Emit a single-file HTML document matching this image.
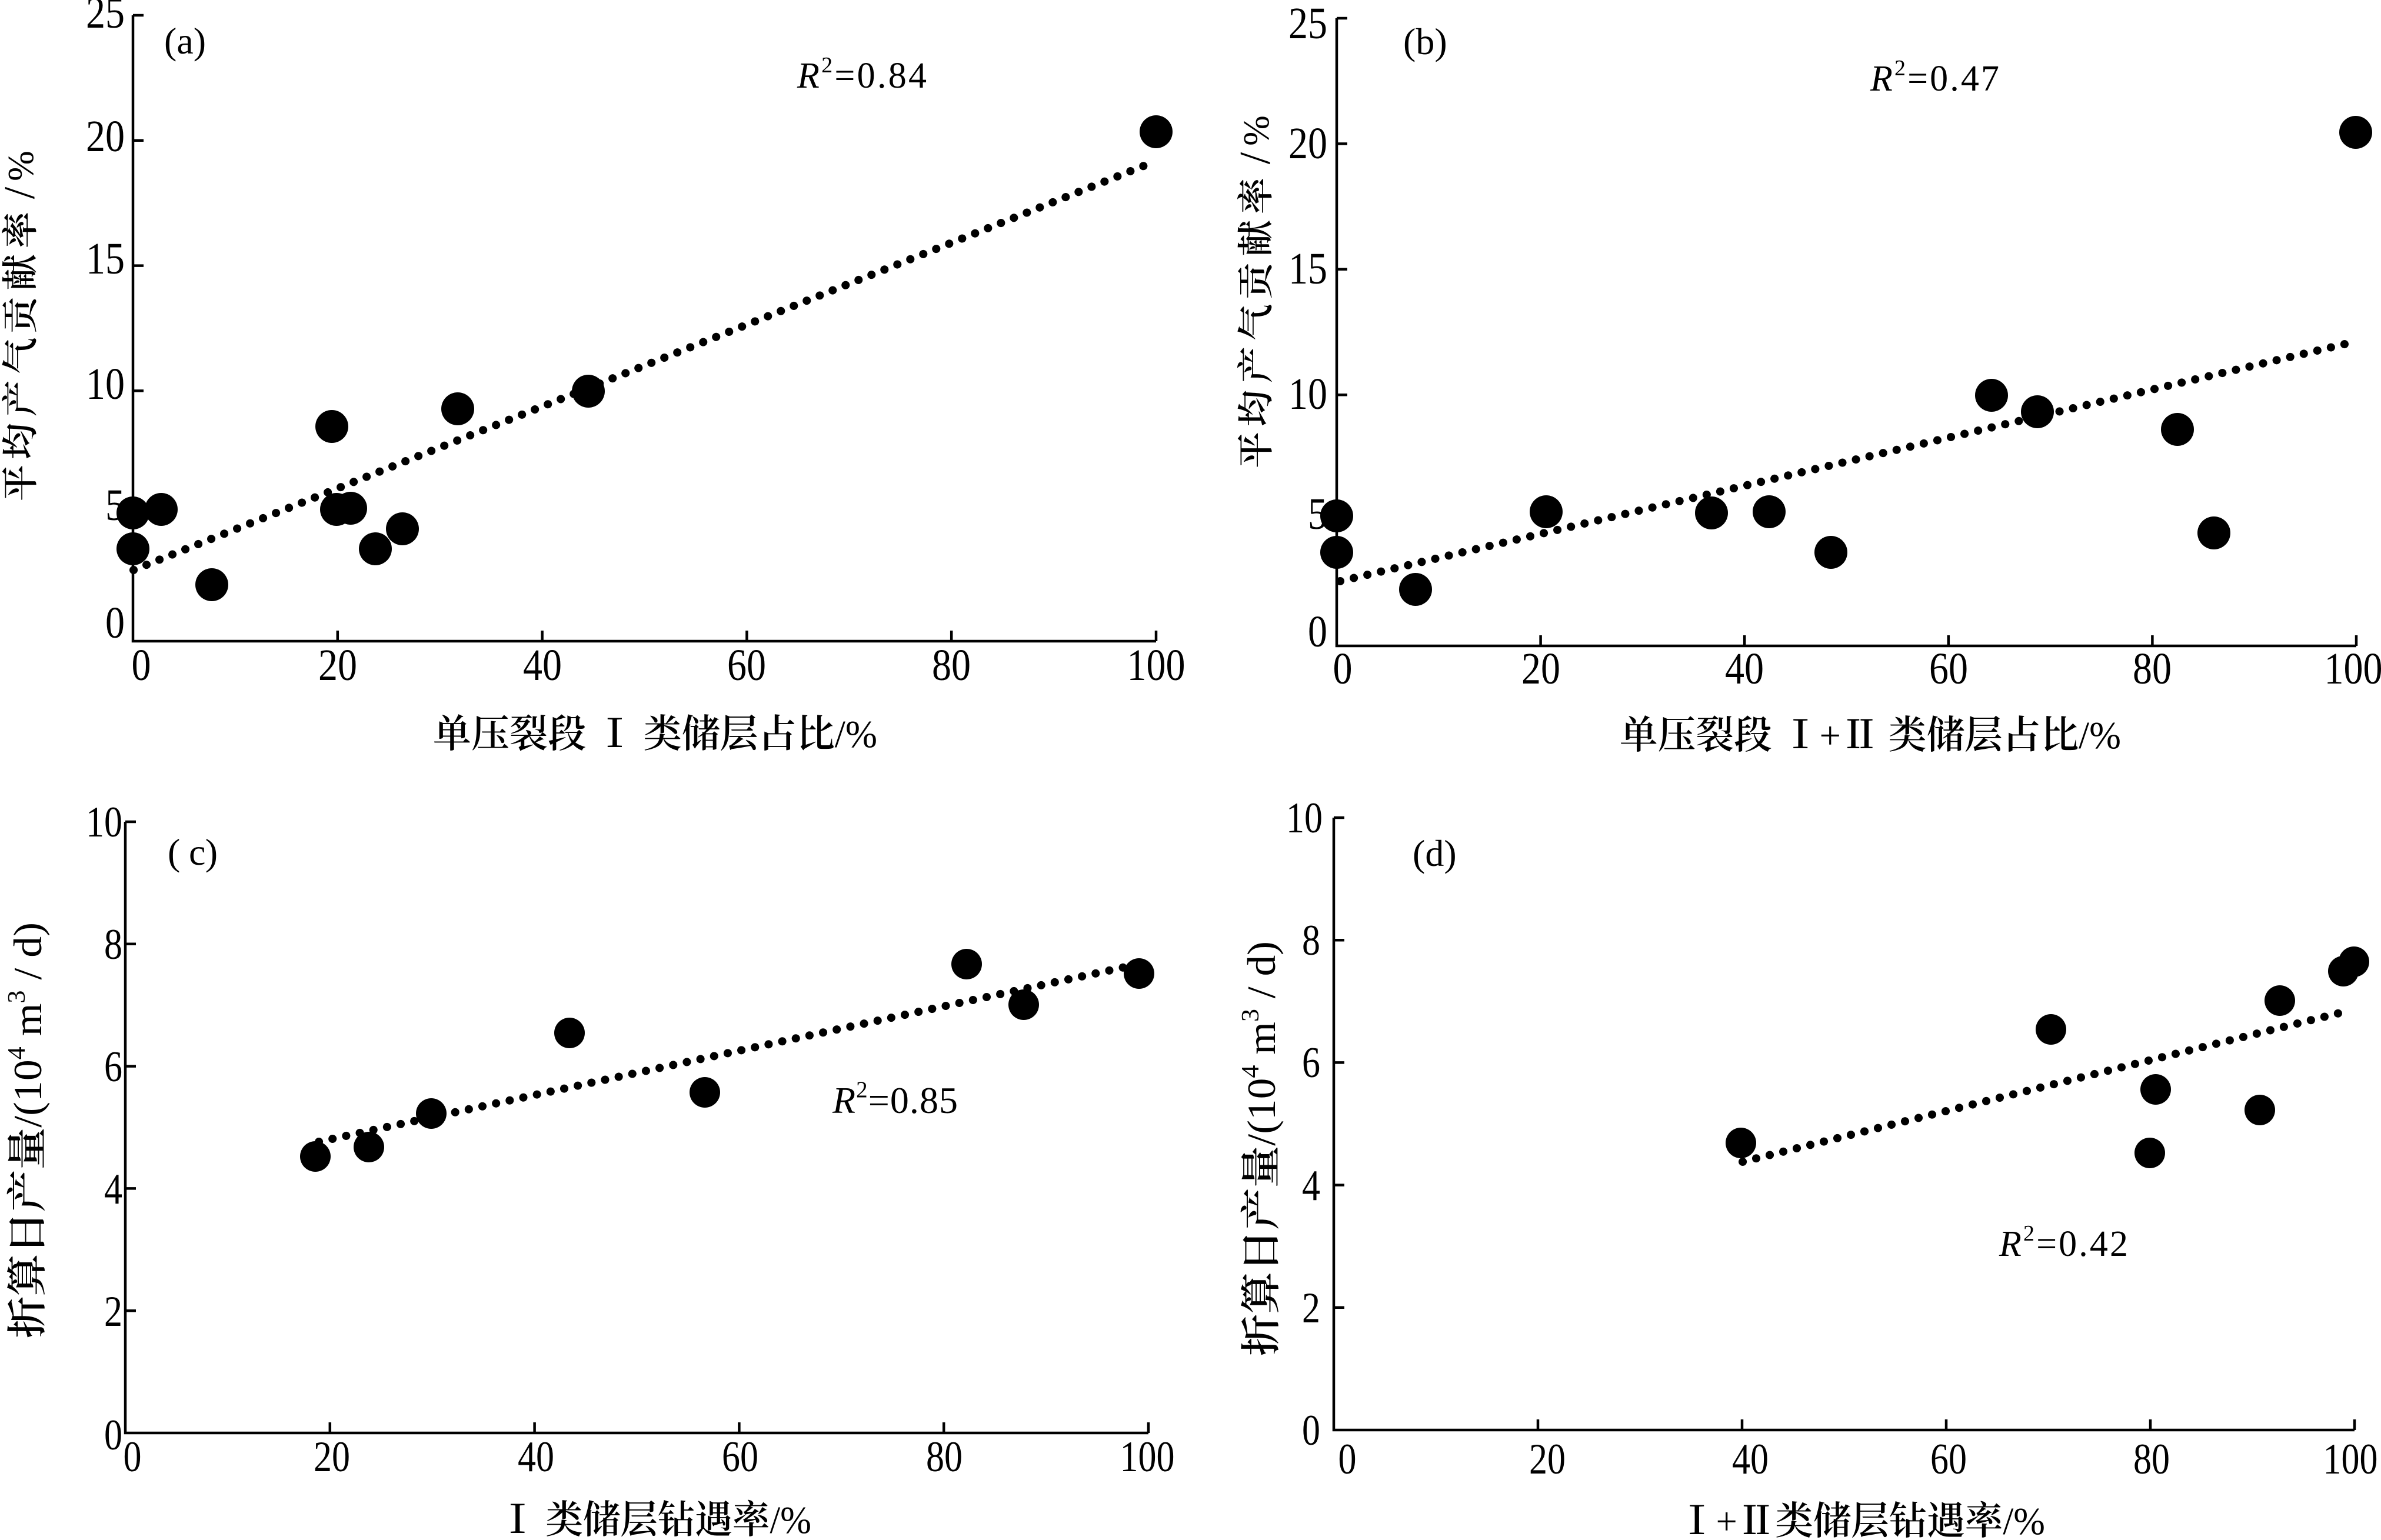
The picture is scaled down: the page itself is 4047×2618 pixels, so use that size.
<!DOCTYPE html>
<html>
<head>
<meta charset="utf-8">
<style>
html,body{margin:0;padding:0;background:#fff;}
svg{display:block;}
text{font-family:"Liberation Serif","Noto Serif CJK SC",serif;fill:#000;}
.b{font-weight:600;}
</style>
</head>
<body>
<svg width="4047" height="2618" viewBox="0 0 4047 2618" xmlns="http://www.w3.org/2000/svg">
<rect width="4047" height="2618" fill="#fff"/>

<!-- ================= Panel (a) ================= -->
<g stroke="#000" stroke-width="4.5" fill="none">
  <path d="M226,26 L226,1090 L1965,1090"/>
  <path d="M226,26 H244 M226,238.8 H244 M226,451.6 H244 M226,664.4 H244 M226,877.2 H244"/>
  <path d="M573.8,1090 V1072 M921.6,1090 V1072 M1269.4,1090 V1072 M1617.2,1090 V1072 M1965,1090 V1072"/>
</g>
<g font-size="76" text-anchor="end">
  <text x="212" y="47" textLength="66" lengthAdjust="spacingAndGlyphs">25</text>
  <text x="212" y="257" textLength="66" lengthAdjust="spacingAndGlyphs">20</text>
  <text x="212" y="465" textLength="66" lengthAdjust="spacingAndGlyphs">15</text>
  <text x="212" y="678" textLength="66" lengthAdjust="spacingAndGlyphs">10</text>
  <text x="212" y="884" textLength="33" lengthAdjust="spacingAndGlyphs">5</text>
  <text x="212" y="1084" textLength="33" lengthAdjust="spacingAndGlyphs">0</text>
</g>
<g font-size="76" text-anchor="middle">
  <text x="240" y="1156" textLength="33" lengthAdjust="spacingAndGlyphs">0</text>
  <text x="574" y="1156" textLength="66" lengthAdjust="spacingAndGlyphs">20</text>
  <text x="922" y="1156" textLength="66" lengthAdjust="spacingAndGlyphs">40</text>
  <text x="1269" y="1156" textLength="66" lengthAdjust="spacingAndGlyphs">60</text>
  <text x="1617" y="1156" textLength="66" lengthAdjust="spacingAndGlyphs">80</text>
  <text x="1965" y="1156" textLength="99" lengthAdjust="spacingAndGlyphs">100</text>
</g>
<text x="279" y="91" font-size="64">(a)</text>
<text x="1355" y="149" font-size="62" textLength="220" lengthAdjust="spacing"><tspan font-style="italic">R</tspan><tspan font-size="38" dy="-26">2</tspan><tspan dy="26">=0.84</tspan></text>
<path d="M227,969 L1949,280" stroke="#000" stroke-width="14" stroke-linecap="round" stroke-dasharray="0.1 23.6" fill="none"/>
<g fill="#000">
  <circle cx="1965" cy="224" r="28"/>
  <circle cx="1000" cy="665" r="28"/>
  <circle cx="778" cy="695" r="28"/>
  <circle cx="564" cy="725" r="28"/>
  <circle cx="572" cy="866" r="28"/>
  <circle cx="596" cy="864" r="28"/>
  <circle cx="684" cy="899" r="28"/>
  <circle cx="638" cy="933" r="28"/>
  <circle cx="226" cy="872" r="28"/>
  <circle cx="274" cy="866" r="28"/>
  <circle cx="226" cy="933" r="28"/>
  <circle cx="360" cy="994" r="28"/>
</g>
<g transform="translate(56,0) rotate(-90)" font-size="62" text-anchor="middle">
  <text class="b" x="-821" y="0">平</text>
  <text class="b" x="-750" y="0">均</text>
  <text class="b" x="-677" y="0">产</text>
  <text class="b" x="-605" y="0">气</text>
  <text class="b" x="-536" y="0">贡</text>
  <text class="b" x="-463" y="0">献</text>
  <text class="b" x="-391" y="0">率</text>
  <text x="-328" y="2" font-size="74">/</text>
  <text x="-282" y="0">%</text>
</g>
<text x="736" y="1270" font-size="66" textLength="755" lengthAdjust="spacingAndGlyphs"><tspan class="b">单压裂段 Ⅰ 类储层占比</tspan>/%</text>

<!-- ================= Panel (b) ================= -->
<g stroke="#000" stroke-width="4.5" fill="none">
  <path d="M2272,31 L2272,1098 L4005,1098"/>
  <path d="M2272,31 H2290 M2272,244.4 H2290 M2272,457.8 H2290 M2272,671.2 H2290 M2272,884.6 H2290"/>
  <path d="M2618.6,1098 V1080 M2965.2,1098 V1080 M3311.8,1098 V1080 M3658.4,1098 V1080 M4005,1098 V1080"/>
</g>
<g font-size="76" text-anchor="end">
  <text x="2256" y="65" textLength="66" lengthAdjust="spacingAndGlyphs">25</text>
  <text x="2256" y="269" textLength="66" lengthAdjust="spacingAndGlyphs">20</text>
  <text x="2256" y="482" textLength="66" lengthAdjust="spacingAndGlyphs">15</text>
  <text x="2256" y="695" textLength="66" lengthAdjust="spacingAndGlyphs">10</text>
  <text x="2256" y="899" textLength="33" lengthAdjust="spacingAndGlyphs">5</text>
  <text x="2256" y="1099" textLength="33" lengthAdjust="spacingAndGlyphs">0</text>
</g>
<g font-size="76" text-anchor="middle">
  <text x="2282" y="1162" textLength="33" lengthAdjust="spacingAndGlyphs">0</text>
  <text x="2619" y="1162" textLength="66" lengthAdjust="spacingAndGlyphs">20</text>
  <text x="2965" y="1162" textLength="66" lengthAdjust="spacingAndGlyphs">40</text>
  <text x="3312" y="1162" textLength="66" lengthAdjust="spacingAndGlyphs">60</text>
  <text x="3658" y="1162" textLength="66" lengthAdjust="spacingAndGlyphs">80</text>
  <text x="4000" y="1162" textLength="99" lengthAdjust="spacingAndGlyphs">100</text>
</g>
<text x="2385" y="92" font-size="64">(b)</text>
<text x="3179" y="154" font-size="62" textLength="219" lengthAdjust="spacing"><tspan font-style="italic">R</tspan><tspan font-size="38" dy="-26">2</tspan><tspan dy="26">=0.47</tspan></text>
<path d="M2278,988 L3998,582" stroke="#000" stroke-width="14" stroke-linecap="round" stroke-dasharray="0.1 23.6" fill="none"/>
<g fill="#000">
  <circle cx="4004" cy="225" r="28"/>
  <circle cx="3385" cy="672" r="28"/>
  <circle cx="3463" cy="700" r="28"/>
  <circle cx="3701" cy="730" r="28"/>
  <circle cx="3763" cy="906" r="28"/>
  <circle cx="3112" cy="939" r="28"/>
  <circle cx="3007" cy="870" r="28"/>
  <circle cx="2909" cy="872" r="28"/>
  <circle cx="2628" cy="870" r="28"/>
  <circle cx="2272" cy="877" r="28"/>
  <circle cx="2272" cy="939" r="28"/>
  <circle cx="2406" cy="1002" r="28"/>
</g>
<g transform="translate(2156,0) rotate(-90)" font-size="62" text-anchor="middle">
  <text class="b" x="-765" y="0">平</text>
  <text class="b" x="-694" y="0">均</text>
  <text class="b" x="-620" y="0">产</text>
  <text class="b" x="-548" y="0">气</text>
  <text class="b" x="-478" y="0">贡</text>
  <text class="b" x="-405" y="0">献</text>
  <text class="b" x="-333" y="0">率</text>
  <text x="-269" y="2" font-size="74">/</text>
  <text x="-222" y="0">%</text>
</g>
<text x="2753" y="1272" font-size="66" textLength="852" lengthAdjust="spacingAndGlyphs"><tspan class="b">单压裂段 Ⅰ</tspan>+<tspan class="b">Ⅱ 类储层占比</tspan>/%</text>

<!-- ================= Panel (c) ================= -->
<g stroke="#000" stroke-width="4.5" fill="none">
  <path d="M213,1397 L213,2436 L1952,2436"/>
  <path d="M213,1397 H231 M213,1604.8 H231 M213,1812.6 H231 M213,2020.4 H231 M213,2228.2 H231"/>
  <path d="M560.8,2436 V2418 M908.6,2436 V2418 M1256.4,2436 V2418 M1604.2,2436 V2418 M1952,2436 V2418"/>
</g>
<g font-size="74" text-anchor="end">
  <text x="208" y="1422" textLength="62" lengthAdjust="spacingAndGlyphs">10</text>
  <text x="208" y="1630" textLength="31" lengthAdjust="spacingAndGlyphs">8</text>
  <text x="208" y="1838" textLength="31" lengthAdjust="spacingAndGlyphs">6</text>
  <text x="208" y="2046" textLength="31" lengthAdjust="spacingAndGlyphs">4</text>
  <text x="208" y="2254" textLength="31" lengthAdjust="spacingAndGlyphs">2</text>
  <text x="208" y="2464" textLength="31" lengthAdjust="spacingAndGlyphs">0</text>
</g>
<g font-size="74" text-anchor="middle">
  <text x="225" y="2501" textLength="31" lengthAdjust="spacingAndGlyphs">0</text>
  <text x="564" y="2501" textLength="62" lengthAdjust="spacingAndGlyphs">20</text>
  <text x="911" y="2501" textLength="62" lengthAdjust="spacingAndGlyphs">40</text>
  <text x="1258" y="2501" textLength="62" lengthAdjust="spacingAndGlyphs">60</text>
  <text x="1605" y="2501" textLength="62" lengthAdjust="spacingAndGlyphs">80</text>
  <text x="1950" y="2501" textLength="93" lengthAdjust="spacingAndGlyphs">100</text>
</g>
<text x="285" y="1470" font-size="64" textLength="85" lengthAdjust="spacing">( c)</text>
<text x="1415" y="1892" font-size="64" textLength="213" lengthAdjust="spacing"><tspan font-style="italic">R</tspan><tspan font-size="39" dy="-27">2</tspan><tspan dy="27">=0.85</tspan></text>
<path d="M542,1941 L1926,1641" stroke="#000" stroke-width="14" stroke-linecap="round" stroke-dasharray="0.1 23.6" fill="none"/>
<g fill="#000">
  <circle cx="536" cy="1966" r="26"/>
  <circle cx="627" cy="1950" r="26"/>
  <circle cx="733" cy="1893" r="26"/>
  <circle cx="968" cy="1756" r="26"/>
  <circle cx="1198" cy="1857" r="26"/>
  <circle cx="1643" cy="1639" r="26"/>
  <circle cx="1740" cy="1708" r="26"/>
  <circle cx="1936" cy="1655" r="26"/>
</g>
<text transform="translate(70,2275) rotate(-90)" font-size="68" textLength="707" lengthAdjust="spacingAndGlyphs"><tspan class="b">折算日产量</tspan>/(10<tspan font-size="42" dy="-28">4</tspan><tspan dy="28"> m</tspan><tspan font-size="42" dy="-28">3</tspan><tspan dy="28"> / d)</tspan></text>
<text x="848" y="2606" font-size="66" textLength="531" lengthAdjust="spacingAndGlyphs"><tspan class="b">Ⅰ 类储层钻遇率</tspan>/%</text>

<!-- ================= Panel (d) ================= -->
<g stroke="#000" stroke-width="4.5" fill="none">
  <path d="M2267,1390 L2267,2431 L4002,2431"/>
  <path d="M2267,1390 H2285 M2267,1598.2 H2285 M2267,1806.4 H2285 M2267,2014.6 H2285 M2267,2222.8 H2285"/>
  <path d="M2614,2431 V2413 M2961,2431 V2413 M3308,2431 V2413 M3655,2431 V2413 M4002,2431 V2413"/>
</g>
<g font-size="74" text-anchor="end">
  <text x="2248" y="1415" textLength="62" lengthAdjust="spacingAndGlyphs">10</text>
  <text x="2244" y="1623" textLength="31" lengthAdjust="spacingAndGlyphs">8</text>
  <text x="2244" y="1831" textLength="31" lengthAdjust="spacingAndGlyphs">6</text>
  <text x="2244" y="2040" textLength="31" lengthAdjust="spacingAndGlyphs">4</text>
  <text x="2244" y="2248" textLength="31" lengthAdjust="spacingAndGlyphs">2</text>
  <text x="2244" y="2456" textLength="31" lengthAdjust="spacingAndGlyphs">0</text>
</g>
<g font-size="74" text-anchor="middle">
  <text x="2290" y="2505" textLength="31" lengthAdjust="spacingAndGlyphs">0</text>
  <text x="2630" y="2505" textLength="62" lengthAdjust="spacingAndGlyphs">20</text>
  <text x="2975" y="2505" textLength="62" lengthAdjust="spacingAndGlyphs">40</text>
  <text x="3312" y="2505" textLength="62" lengthAdjust="spacingAndGlyphs">60</text>
  <text x="3657" y="2505" textLength="62" lengthAdjust="spacingAndGlyphs">80</text>
  <text x="3995" y="2505" textLength="93" lengthAdjust="spacingAndGlyphs">100</text>
</g>
<text x="2401" y="1472" font-size="64">(d)</text>
<text x="3398" y="2135" font-size="62" textLength="219" lengthAdjust="spacing"><tspan font-style="italic">R</tspan><tspan font-size="38" dy="-26">2</tspan><tspan dy="26">=0.42</tspan></text>
<path d="M2962,1975 L3985,1720" stroke="#000" stroke-width="14" stroke-linecap="round" stroke-dasharray="0.1 23.6" fill="none"/>
<g fill="#000">
  <circle cx="2959" cy="1943" r="26"/>
  <circle cx="3486" cy="1750" r="26"/>
  <circle cx="3654" cy="1960" r="26"/>
  <circle cx="3664" cy="1852" r="26"/>
  <circle cx="3841" cy="1887" r="26"/>
  <circle cx="3875" cy="1701" r="26"/>
  <circle cx="3983" cy="1651" r="26"/>
  <circle cx="4001" cy="1635" r="26"/>
</g>
<text transform="translate(2167,2305) rotate(-90)" font-size="68" textLength="705" lengthAdjust="spacingAndGlyphs"><tspan class="b">折算日产量</tspan>/(10<tspan font-size="42" dy="-28">4</tspan><tspan dy="28"> m</tspan><tspan font-size="42" dy="-28">3</tspan><tspan dy="28"> / d)</tspan></text>
<text x="2852" y="2608" font-size="66" textLength="624" lengthAdjust="spacingAndGlyphs"><tspan class="b">Ⅰ</tspan>+<tspan class="b">Ⅱ类储层钻遇率</tspan>/%</text>

</svg>
</body>
</html>
